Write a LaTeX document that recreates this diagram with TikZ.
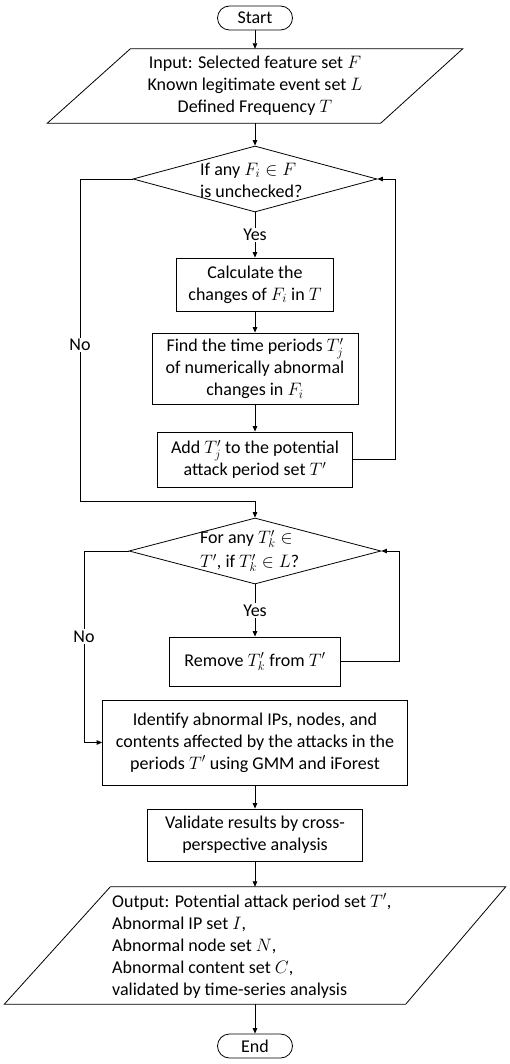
\RequirePackage{fix-cm}
\documentclass[tikz,border=0pt]{standalone}
\usepackage{fontspec}
\setmainfont{Carlito}
\usetikzlibrary{shapes.geometric,arrows.meta,calc}
\begin{document}
\begin{tikzpicture}[x=1pt,y=-1pt,
  every node/.style={font=\fontsize{18}{22}\selectfont, inner sep=0pt},
  line/.style={draw=black, line width=0.8pt},
  arr/.style={line, -{Triangle[length=5.5pt,width=4.5pt]}},
  box/.style={draw, line width=0.8pt, align=center},
  term/.style={draw, line width=0.8pt, rounded corners=12pt, minimum width=75pt, minimum height=24pt},
  dec/.style={draw, diamond, line width=0.8pt},
  lbl/.style={fill=white, inner sep=1.5pt}]
\useasboundingbox (0,0) rectangle (510,1064);

% nodes
\node[term] (start) at (255,18) {Start};
\node[minimum width=415pt, minimum height=74pt, align=center] (input) at (255,86)
  {Input: Selected feature set $F$\\Known legitimate event set $L$\\Defined Frequency $T$};
\draw[line] (input.south west) -- ([xshift=-82pt]input.south east) -- (input.north east) -- ([xshift=83pt]input.north west) -- cycle;

\node[dec, minimum width=244pt, minimum height=66pt] (d1) at (255,179) {};
\node[align=left, anchor=west] (d1t) at (200,180) {If any $F_i\in F$\\is unchecked?};

\node[box, minimum width=157pt, minimum height=53pt] (b1) at (255,284.5)
  {Calculate the\\changes of $F_i$ in $T$};
\node[box, minimum width=206pt, minimum height=71pt] (b2) at (255,368.5)
  {Find the time periods $T_j'$\\of numerically abnormal\\changes in $F_i$};
\node[box, minimum width=195pt, minimum height=55pt] (b3) at (255,459.5)
  {Add $T_j'$ to the potential\\attack period set $T'$};

\node[dec, minimum width=252pt, minimum height=66pt] (d2) at (255,551) {};
\node[align=left, anchor=west] (d2t) at (200,551) {For any $T_k'\in$\\[2pt]$T'$, if $T_k'\in L$?};

\node[box, minimum width=171pt, minimum height=49pt] (b4) at (255,661.5)
  {Remove $T_k'$ from $T'$};
\node[box, minimum width=305pt, minimum height=85pt] (b5) at (255,742.5)
  {Identify abnormal IPs, nodes, and\\contents affected by the attacks in the\\periods $T'$ using GMM and iForest};
\node[box, minimum width=215pt, minimum height=52pt] (b6) at (255,835)
  {Validate results by cross-\\perspective analysis};

\node[minimum width=501pt, minimum height=117pt] (output) at (255,945.5) {};
\draw[line] (output.south west) -- ([xshift=-100pt]output.south east) -- (output.north east) -- ([xshift=106pt]output.north west) -- cycle;
\node[align=left, anchor=west] (outt) at (112,946)
  {Output: Potential attack period set $T'$,\\Abnormal IP set $I$,\\Abnormal node set $N$,\\Abnormal content set $C$,\\validated by time-series analysis};

\node[term] (end) at (255,1046) {End};

% helper coordinates
\coordinate (r1) at (395,0);
\coordinate (l1) at (80,0);
\coordinate (j1) at (255,501);
\coordinate (r2) at (399,0);
\coordinate (l2) at (84,0);

% connectors
\draw[arr] (start) -- (input);
\draw[arr] (input) -- (d1);
\draw[arr] (d1) -- node[lbl]{Yes} (b1);
\draw[arr] (b1) -- (b2);
\draw[arr] (b2) -- (b3);
\draw[arr] (b3.east) -- (b3.east -| r1) -- (d1.east -| r1) -- (d1.east);
\draw[arr] (d1.west) -- (d1.west -| l1) -- node[lbl,pos=0.516]{No} (j1 -| l1) -- (j1) -- (d2.north);
\draw[arr] (d2) -- node[lbl]{Yes} (b4);
\draw[arr] (b4.east) -- (b4.east -| r2) -- (d2.east -| r2) -- (d2.east);
\draw[arr] (d2.west) -- (d2.west -| l2) -- node[lbl,pos=0.448]{No} (b5.west -| l2) -- (b5.west);
\draw[arr] (b5) -- (b6);
\draw[arr] (b6) -- (output);
\draw[arr] (output) -- (end);
\end{tikzpicture}
\end{document}
